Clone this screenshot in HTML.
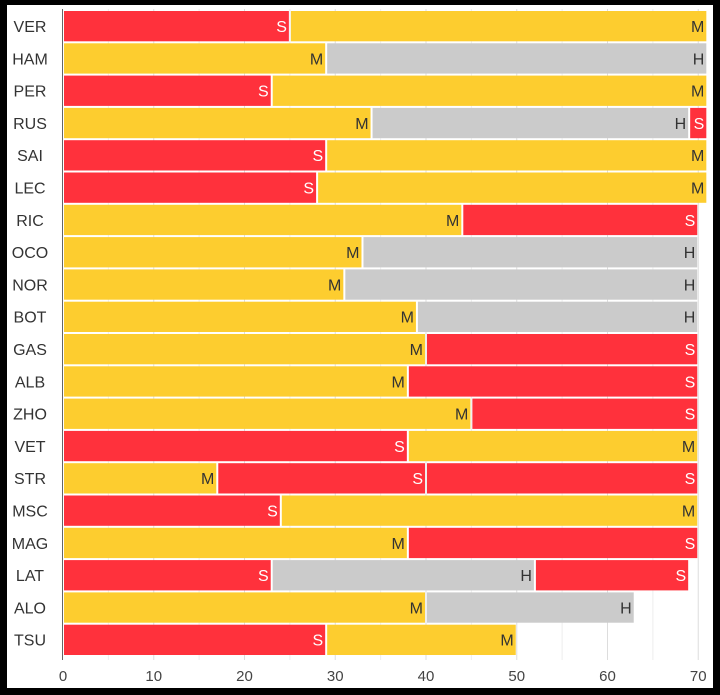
<!DOCTYPE html>
<html><head><meta charset="utf-8"><style>
body{margin:0;background:#000;}
#wrap{position:absolute;left:7px;top:5px;width:706px;height:683px;background:#fff;}
svg{position:absolute;left:0;top:0;}
text{font-family:"Liberation Sans",sans-serif;}
</style></head><body>
<div id="wrap"></div>
<svg id="chart" width="720" height="695"></svg>
<script>
const drivers=["VER","HAM","PER","RUS","SAI","LEC","RIC","OCO","NOR","BOT","GAS","ALB","ZHO","VET","STR","MSC","MAG","LAT","ALO","TSU"];
const stintEnds=[[25,71],[29,71],[23,71],[34,69,71],[29,71],[28,71],[44,70],[33,70],[31,70],[39,70],[40,70],[38,70],[45,70],[38,70],[17,40,70],[24,70],[38,70],[23,52,69],[40,63],[29,50]];
const compounds=[["S","M"],["M","H"],["S","M"],["M","H","S"],["S","M"],["S","M"],["M","S"],["M","H"],["M","H"],["M","H"],["M","S"],["M","S"],["M","S"],["S","M"],["M","S","S"],["S","M"],["M","S"],["S","H","S"],["M","H"],["S","M"]];
const xTicks=[0,10,20,30,40,50,60,70];
const fills={S:"#ff313c",M:"#fdcd2f",H:"#cbcbcb"};
const txt={S:"#fff",M:"#333",H:"#333"};
const NS="http://www.w3.org/2000/svg";
const svg=document.getElementById('chart');
const x0=63,pxPer=9.075,yTop=11,pitch=32.3;
const xs=v=>x0+v*pxPer;
const ys=i=>yTop+i*pitch;
function mk(t,a){const e=document.createElementNS(NS,t);for(const k in a)e.setAttribute(k,a[k]);svg.appendChild(e);return e;}
for(let v=5;v<=70;v+=5){
  const g=mk('line',{x1:xs(v),x2:xs(v),y1:9,y2:660,stroke:v%10?'#eee':'#ddd','stroke-width':1});
  
  
}
drivers.forEach((d,i)=>{
  const lab=mk('text',{x:30,y:ys(i)+21,'text-anchor':'middle','font-size':16,fill:'#333'});
  lab.textContent=d;
  
  
  let start=0;
  stintEnds[i].forEach((end,j)=>{
    const c=compounds[i][j];
    const r=mk('rect',{x:xs(start)+1,y:ys(i),width:Math.max(0,xs(end)-xs(start)-2),height:pitch-2,fill:fills[c]});
    
    
    const t=mk('text',{x:xs(end)-3,y:ys(i)+21,'text-anchor':'end','font-size':16,fill:txt[c]});
    t.textContent=c;
    
    
    start=end;
  });
});
const ax=mk('line',{x1:62.5,x2:62.5,y1:9,y2:660,stroke:'#666','stroke-width':1});


xTicks.forEach(v=>{
  const t=mk('text',{x:xs(v),y:681,'text-anchor':'middle','font-size':15,fill:'#444'});
  t.textContent=v;
  
  
});
</script>
</body></html>
